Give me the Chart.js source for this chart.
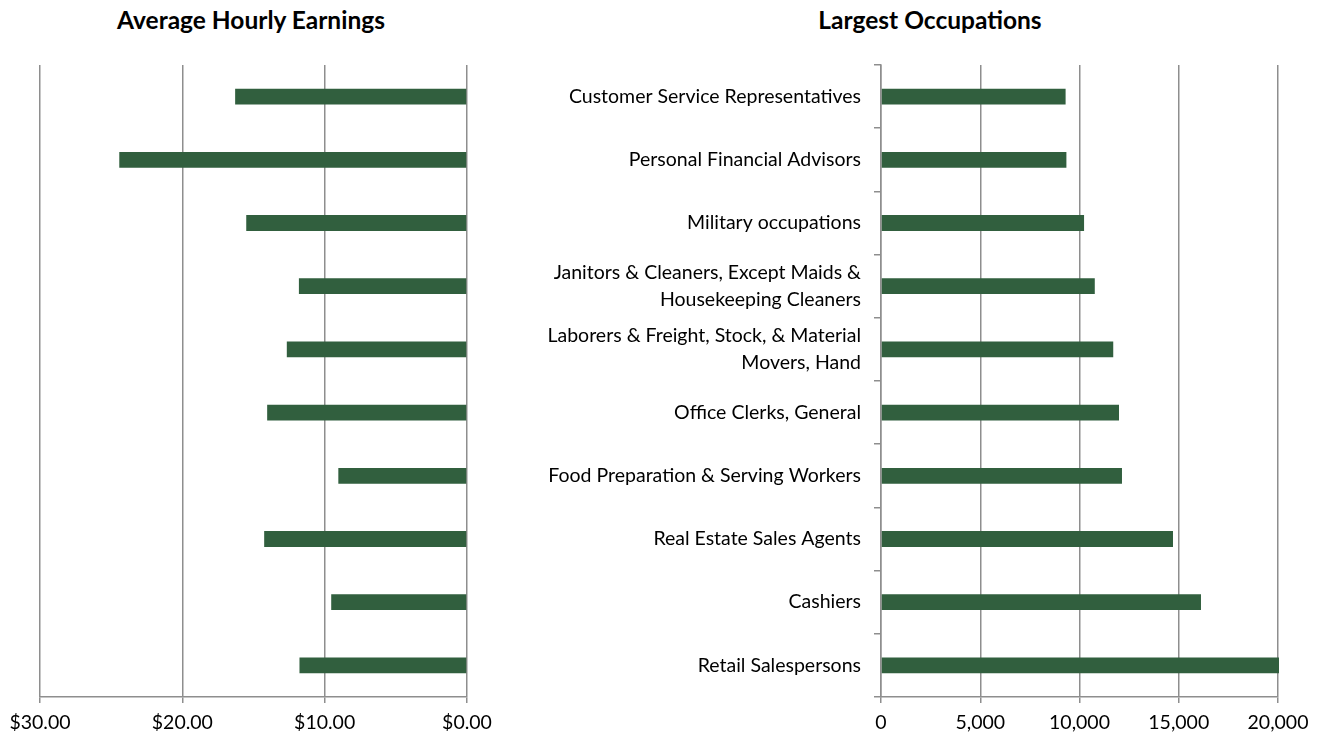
<!DOCTYPE html>
<html>
<head>
<meta charset="utf-8">
<script src="https://cdn.jsdelivr.net/npm/chart.js@4"></script>
<style>
  body { margin:0; background:#fff; }
  #wrap { position:relative; width:1320px; height:737px; overflow:hidden; }
  .ttl { position:absolute; top:5px; font:bold 24.5px Lato, "Open Sans", sans-serif; color:#000; text-align:center; }
  canvas { position:absolute; top:0; }
</style>
</head>
<body>
<div id="wrap">
  <div class="ttl" style="left:81px;width:340px">Average Hourly Earnings</div>
  <div class="ttl" style="left:760px;width:340px">Largest Occupations</div>
  <div style="position:absolute;left:0;top:0;width:520px;height:737px"><canvas id="wageChart"></canvas></div>
  <div style="position:absolute;left:520px;top:0;width:800px;height:737px"><canvas id="occChart"></canvas></div>
</div>
<script>
const occupations = [
  'Customer Service Representatives',
  'Personal Financial Advisors',
  'Military occupations',
  ['Janitors & Cleaners, Except Maids &', 'Housekeeping Cleaners'],
  ['Laborers & Freight, Stock, & Material', 'Movers, Hand'],
  'Office Clerks, General',
  'Food Preparation & Serving Workers',
  'Real Estate Sales Agents',
  'Cashiers',
  'Retail Salespersons'
];
const hourlyEarnings = [16.29, 24.43, 15.51, 11.81, 12.66, 14.04, 9.04, 14.25, 9.54, 11.77];
const employment = [9300, 9340, 10230, 10770, 11700, 11990, 12140, 14710, 16120, 20050];
const wageTicks = [0, 10, 20, 30];
const empTicks = [0, 5000, 10000, 15000, 20000];

const barColor = '#315f3e';
const gridColor = '#8e8e8e';
const font = { family: 'Lato, "Open Sans", sans-serif', size: 19.5 };

Chart.defaults.color = '#000';
Chart.defaults.animation = false;

new Chart(document.getElementById('wageChart'), {
  type: 'bar',
  data: { labels: occupations, datasets: [{ data: hourlyEarnings, backgroundColor: barColor, barPercentage: 0.25, categoryPercentage: 1 }] },
  options: {
    indexAxis: 'y', responsive: true, maintainAspectRatio: false,
    layout: { padding: { left: 40, right: 53, top: 65, bottom: 0 } },
    plugins: { legend: { display: false }, tooltip: { enabled: false } },
    scales: {
      x: {
        reverse: true, min: 0, max: 30,
        afterBuildTicks: s => { s.ticks = wageTicks.map(v => ({ value: v })); },
        afterFit: s => { s.height = 40; },
        ticks: { font, padding: 8, callback: v => '$' + Number(v).toFixed(2) },
        grid: { color: gridColor, lineWidth: 1.5, tickLength: 6 },
        border: { color: gridColor, width: 1.5 }
      },
      y: { display: false }
    }
  }
});

new Chart(document.getElementById('occChart'), {
  type: 'bar',
  data: { labels: occupations, datasets: [{ data: employment, backgroundColor: barColor, barPercentage: 0.25, categoryPercentage: 1, clip: { left: 0, top: 0, right: 4, bottom: 0 } }] },
  options: {
    indexAxis: 'y', responsive: true, maintainAspectRatio: false,
    layout: { padding: { left: 0, right: 42, top: 65, bottom: 0 } },
    plugins: { legend: { display: false }, tooltip: { enabled: false } },
    scales: {
      x: {
        min: 0, max: 20000,
        afterBuildTicks: s => { s.ticks = empTicks.map(v => ({ value: v })); },
        afterFit: s => { s.height = 40; },
        ticks: { font, padding: 8, callback: v => Number(v).toLocaleString('en-US') },
        grid: { color: gridColor, lineWidth: 1.5, tickLength: 6 },
        border: { color: gridColor, width: 1.5 }
      },
      y: {
        afterFit: s => { s.width = 361; },
        ticks: { font: { ...font, lineHeight: 1.385 }, padding: 13 },
        grid: { color: gridColor, lineWidth: 1.5, drawOnChartArea: false, tickLength: 7 },
        border: { color: gridColor, width: 1.5 }
      }
    }
  }
});
</script>
</body>
</html>
